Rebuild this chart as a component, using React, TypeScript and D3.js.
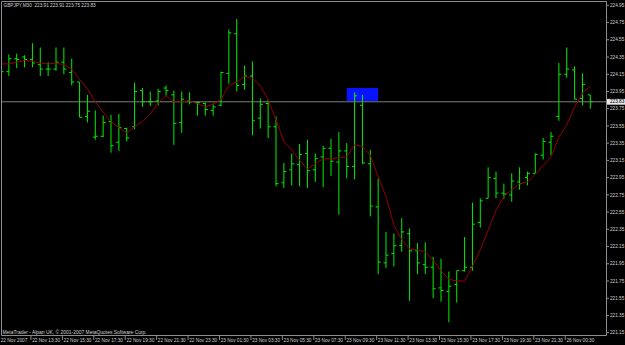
import React from "react";
import * as d3 from "d3";

const symbolTitle = "GBPJPY,M30";
const copyright = "MetaTrader - Alpari UK, \u00A9 2001-2007 MetaQuotes Software Corp.";

const opens = [224.32,224.18,224.33,224.35,224.32,224.26,224.21,224.21,224.29,224.17,
224.06,223.66,223.42,223.43,223.60,223.36,223.52,223.54,223.96,223.83,
223.84,223.99,223.91,223.59,223.84,223.82,223.81,223.73,223.79,224.16,
224.62,224.03,224.13,223.64,223.81,223.54,222.89,223.04,223.10,223.23,
223.04,223.19,223.29,223.13,223.26,223.08,223.79,223.11,222.61,221.96,
222.07,222.16,222.30,222.10,221.94,221.91,221.67,221.63,221.71,221.87,
221.91,222.43,222.71,222.94,222.77,222.75,222.90,222.95,223.00,223.21,
223.36,223.66,224.15,224.20,223.87,223.91];
const highs = [224.45,224.38,224.39,224.37,224.51,224.46,224.29,224.46,224.46,224.33,
224.06,223.91,223.73,223.67,223.68,223.69,223.53,224.05,223.99,223.95,
223.98,224.02,223.96,223.95,223.94,223.83,223.82,223.81,224.18,224.67,
224.79,224.25,224.30,223.87,223.85,223.66,223.12,223.23,223.34,223.39,
223.23,223.32,223.40,223.48,223.35,223.94,223.91,223.27,222.94,222.32,
222.30,222.48,222.36,222.19,222.20,222.03,222.01,221.86,221.87,222.26,
222.66,222.71,223.07,223.02,222.88,223.00,223.07,223.02,223.23,223.41,
223.48,224.28,224.46,224.24,224.16,223.91];
const lows = [224.16,224.13,224.22,224.23,224.23,224.13,224.13,224.19,224.15,224.02,
223.65,223.59,223.39,223.42,223.24,223.26,223.37,223.51,223.77,223.78,
223.79,223.90,223.33,223.47,223.80,223.67,223.67,223.67,223.78,224.04,
223.95,223.97,223.44,223.52,223.41,222.85,222.83,222.86,222.85,222.83,
222.90,222.84,222.97,222.52,222.94,222.93,223.11,222.50,221.83,221.90,
221.92,222.09,221.52,221.83,221.83,221.55,221.51,221.27,221.50,221.86,
221.87,222.37,222.71,222.71,222.70,222.67,222.81,222.86,223.00,223.16,
223.21,223.61,224.11,223.86,223.79,223.75];
const closes = [224.18,224.33,224.32,224.32,224.28,224.21,224.21,224.29,224.21,224.06,
223.65,223.72,223.43,223.59,223.32,223.53,223.41,223.95,223.83,223.83,
223.95,223.96,223.58,223.86,223.83,223.82,223.74,223.77,224.17,224.63,
224.02,224.13,223.61,223.80,223.54,222.88,223.02,223.11,223.22,223.03,
223.17,223.29,223.14,223.26,223.08,223.90,223.12,222.62,221.97,222.05,
222.16,222.32,222.10,221.96,221.91,221.66,221.64,221.69,221.87,221.91,
222.41,222.68,222.95,222.77,222.76,222.91,222.88,223.00,223.22,223.37,
223.43,224.15,224.21,223.86,224.03,223.83];
const maValues = [224.27,224.27,224.29,224.31,224.30,224.28,224.27,224.28,224.26,224.21,
224.09,223.98,223.83,223.71,223.60,223.53,223.47,223.54,223.60,223.69,
223.82,223.90,223.83,223.83,223.84,223.81,223.77,223.80,223.86,224.02,
224.06,224.13,224.10,224.02,223.85,223.62,223.37,223.27,223.15,223.05,
223.11,223.17,223.17,223.18,223.19,223.33,223.31,223.21,222.96,222.73,
222.40,222.23,222.12,222.11,222.09,221.99,221.87,221.77,221.75,221.75,
221.92,222.11,222.34,222.57,222.73,222.81,222.88,222.90,222.99,223.09,
223.19,223.42,223.56,223.77,223.93,224.01];

const timeLabels = ["22 Nov 2007","22 Nov 13:30","22 Nov 15:30","22 Nov 17:30","22 Nov 19:30",
"22 Nov 21:30","22 Nov 23:30","23 Nov 01:30","23 Nov 03:30","23 Nov 05:30","23 Nov 07:30",
"23 Nov 09:30","23 Nov 11:30","23 Nov 13:30","23 Nov 15:30","23 Nov 17:30","23 Nov 19:30",
"23 Nov 21:30","26 Nov 00:30"];
const labelStep = 4;
const priceTicks = [224.95,224.75,224.55,224.35,224.15,223.95,223.75,223.55,223.35,223.15,
222.95,222.75,222.55,222.35,222.15,221.95,221.75,221.55,221.35,221.15];
const currentPrice = 223.83;
const zoneBars = [44, 48];
const zonePrices = [223.99, 223.84];

export default function App() {
  const W = 625, H = 345;
  const n = closes.length;
  const x = d3.scaleLinear().domain([0, n - 1]).range([1.0, 590.3]);
  const y = d3.scaleLinear().domain([221.15, 224.95]).range([332.7, 5.3]);
  const frameL = 1.5, frameT = 1.5, frameR = 606.5, frameB = 335.5;
  const tick = 2.5;
  const font = "'Liberation Sans', Arial, sans-serif";
  const fs = 4.7;
  const txt = "#d2d2d2";
  const frameCol = "#8e8e8e";
  const maLine = d3.line<number>().x((_, i) => x(i)).y(d => y(d));
  const last = n - 1;
  const title = `${symbolTitle}  ${opens[last].toFixed(2)} ${highs[last].toFixed(2)} ${lows[last].toFixed(2)} ${closes[last].toFixed(2)}`;
  const yCur = y(currentPrice);

  return (
    <svg width={W} height={H} style={{ position: "fixed", left: 0, top: 0, background: "#000" }}>
      <rect x={0} y={0} width={W} height={H} fill="#000" />
      <defs>
        <clipPath id="plot">
          <rect x={frameL} y={frameT} width={frameR - frameL} height={frameB - frameT} />
        </clipPath>
      </defs>
      <g clipPath="url(#plot)">
        <rect x={x(zoneBars[0])} y={y(zonePrices[0])} width={x(zoneBars[1]) - x(zoneBars[0])}
          height={y(zonePrices[1]) - y(zonePrices[0])} fill="#0814ff" />
        <line x1={frameL} x2={frameR} y1={yCur} y2={yCur} stroke="#7c7c7c" strokeWidth={1} />
        {closes.map((c, i) => (
          <g key={i} stroke="#00ee00" strokeWidth={1}>
            <line x1={x(i)} x2={x(i)} y1={y(highs[i])} y2={y(lows[i])} />
            <line x1={x(i) - tick} x2={x(i)} y1={y(opens[i])} y2={y(opens[i])} />
            <line x1={x(i)} x2={x(i) + tick} y1={y(c)} y2={y(c)} />
          </g>
        ))}
        <path d={maLine(maValues) || ""} fill="none" stroke="#940000" strokeWidth={1} />
      </g>
      <g stroke={frameCol} strokeWidth={1} fill="none">
        <line x1={frameL} x2={frameR} y1={frameT} y2={frameT} />
        <line x1={frameL} x2={frameL} y1={frameT} y2={frameB} />
        <line x1={frameR} x2={frameR} y1={frameT} y2={frameB} />
        <line x1={frameL} x2={frameR} y1={frameB} y2={frameB} />
      </g>
      <text x={3.5} y={7} fontFamily={font} fontSize={fs} fill={txt} style={{ whiteSpace: "pre" }}>{title}</text>
      <text x={2.5} y={334.3} fontFamily={font} fontSize={4.95} fill={txt}>{copyright}</text>
      {priceTicks.map((p, i) => (
        <g key={i}>
          <line x1={frameR} x2={frameR + 2.5} y1={y(p)} y2={y(p)} stroke={frameCol} />
          <text x={610} y={y(p) + 1.7} fontFamily={font} fontSize={fs} fill={txt}>{p.toFixed(2)}</text>
        </g>
      ))}
      <rect x={frameR + 0.5} y={yCur - 2.9} width={W - frameR} height={5.8} fill="#e6e6e6" />
      <text x={610} y={yCur + 1.7} fontFamily={font} fontSize={fs} fill="#000">{currentPrice.toFixed(2)}</text>
      {timeLabels.map((t, i) => {
        const bx = x(i * labelStep);
        return (
          <g key={i}>
            <line x1={bx - 1.5} x2={bx - 1.5} y1={frameB} y2={frameB + 4.5} stroke={frameCol} />
            <text x={bx - 0.3} y={341.8} fontFamily={font} fontSize={fs} fill={txt}>{t}</text>
          </g>
        );
      })}
    </svg>
  );
}
